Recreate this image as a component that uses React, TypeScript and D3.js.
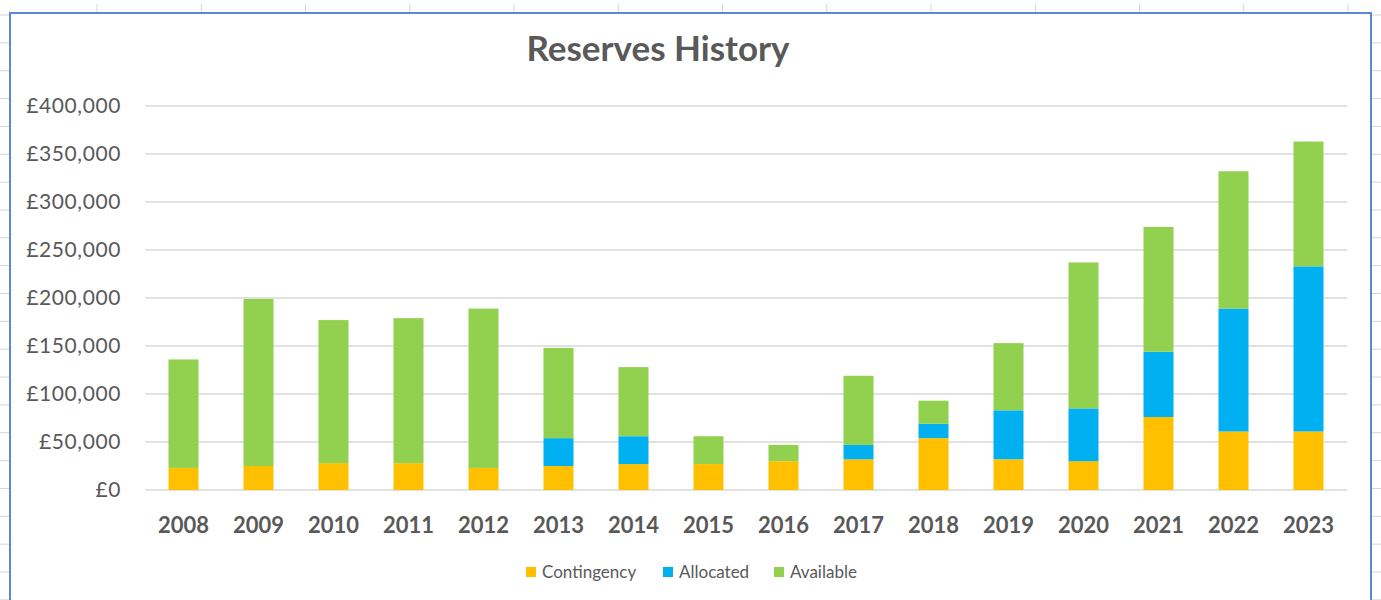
import React from "react";
import * as d3 from "d3";

const years = ["2008","2009","2010","2011","2012","2013","2014","2015","2016","2017","2018","2019","2020","2021","2022","2023"];
const contingency = [23000, 25000, 28000, 28000, 23000, 25000, 27000, 27000, 30000, 32000, 54000, 32000, 30000, 76000, 61000, 61000];
const allocated = [0, 0, 0, 0, 0, 29000, 29000, 0, 0, 15000, 15000, 51000, 55000, 68000, 128000, 172000];
const available = [113000, 174000, 149000, 151000, 166000, 94000, 72000, 29000, 17000, 72000, 24000, 70000, 152000, 130000, 143000, 130000];
const yTicks = [0, 50000, 100000, 150000, 200000, 250000, 300000, 350000, 400000];
const seriesNames = ["Contingency", "Allocated", "Available"];
const seriesColors = ["#FFC000", "#00B0F0", "#92D050"];

const W = 1381, H = 600;
const FONT = "Lato, 'Open Sans', sans-serif";
const TXT = "#595959";

export default function App() {
  const x = d3.scaleBand<string>().domain(years).range([146, 1346]).paddingInner(0.6).paddingOuter(0.3);
  const y = d3.scaleLinear().domain([0, 400000]).range([490, 106]);
  const rows = years.map((yr, i) => ({ year: yr, Contingency: contingency[i], Allocated: allocated[i], Available: available[i] }));
  const stacked = d3.stack<any>().keys(seriesNames)(rows);
  const fmt = (v: number) => "£" + d3.format(",")(v);

  // spreadsheet grid stubs outside the chart frame
  const colStubs = d3.range(13).map((k) => 97 + k * 104.25);
  const rowStubs = d3.range(22).map((k) => 15 + k * 27.85);

  const legendX = [526, 663, 774];

  return (
    <svg width={W} height={H} style={{ position: "absolute", left: 0, top: 0, background: "#fff" }}>
      <rect x={0} y={0} width={W} height={H} fill="#fff" />
      {colStubs.map((cx, i) => (
        <line key={"c" + i} x1={cx} x2={cx} y1={4} y2={13} stroke="#d4d4d4" strokeWidth={1} />
      ))}
      {rowStubs.map((ry, i) => (
        <g key={"r" + i}>
          <line x1={0} x2={10} y1={ry} y2={ry} stroke="#d4d4d4" strokeWidth={1} />
          <line x1={1371} x2={W} y1={ry} y2={ry} stroke="#d4d4d4" strokeWidth={1} />
        </g>
      ))}
      <rect x={10} y={13} width={1361} height={H} fill="#fff" stroke="#5B87D6" strokeWidth={2} />

      <text x={658} y={61} textAnchor="middle" fontFamily={FONT} fontWeight={700} fontSize={35} fill={TXT}>
        Reserves History
      </text>

      {yTicks.map((t) => (
        <g key={t}>
          <line x1={145} x2={1347} y1={y(t)} y2={y(t)} stroke="#d9d9d9" strokeWidth={1.5} />
          <text x={121} y={y(t)} dy="0.35em" textAnchor="end" fontFamily={FONT} fontSize={21} letterSpacing={0.6} fill={TXT}>
            {fmt(t)}
          </text>
        </g>
      ))}

      {stacked.map((s, si) => (
        <g key={s.key} fill={seriesColors[si]}>
          {s.map((d, i) =>
            d[1] - d[0] > 0 ? (
              <rect key={i} x={x(years[i])} width={x.bandwidth()} y={y(d[1])} height={y(d[0]) - y(d[1])} />
            ) : null
          )}
        </g>
      ))}

      {years.map((yr) => (
        <text key={yr} x={(x(yr) as number) + x.bandwidth() / 2} y={533} textAnchor="middle" fontFamily={FONT} fontWeight={700} fontSize={22} fill={TXT}>
          {yr}
        </text>
      ))}

      {seriesNames.map((n, i) => (
        <g key={n}>
          <rect x={legendX[i]} y={567} width={10} height={10} fill={seriesColors[i]} />
          <text x={legendX[i] + 16} y={577.5} fontFamily={FONT} fontSize={17} fill={TXT}>
            {n}
          </text>
        </g>
      ))}
    </svg>
  );
}
